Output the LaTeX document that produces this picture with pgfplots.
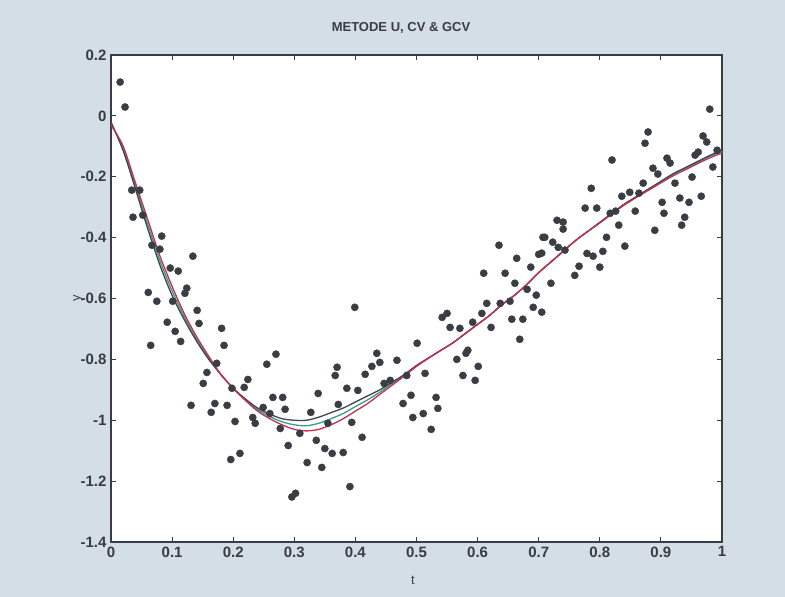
\documentclass[border=0pt]{standalone}
\usepackage{pgfplots}
\pgfplotsset{compat=1.18}
\usepackage{pgfplotstable}
\usepackage{fontspec}
\setmainfont{Liberation Sans}
\definecolor{bgcol}{HTML}{D4DEE7}
\definecolor{axcol}{HTML}{3A3C44}
\definecolor{dotcol}{HTML}{3B3D45}
\definecolor{darkcurve}{HTML}{3E4650}
\definecolor{greencurve}{HTML}{3C9A88}
\definecolor{redcurve}{HTML}{C8304E}

\pgfplotstableread{
t y
0.015 0.111
0.023 0.029
0.034 -0.244
0.047 -0.244
0.036 -0.333
0.052 -0.326
0.083 -0.395
0.067 -0.425
0.080 -0.438
0.134 -0.461
0.097 -0.500
0.110 -0.510
0.061 -0.580
0.075 -0.609
0.124 -0.566
0.121 -0.583
0.101 -0.609
0.141 -0.639
0.144 -0.682
0.092 -0.678
0.105 -0.708
0.114 -0.741
0.065 -0.754
0.181 -0.698
0.185 -0.754
0.270 -0.783
0.255 -0.816
0.173 -0.813
0.157 -0.843
0.151 -0.879
0.224 -0.866
0.218 -0.892
0.198 -0.895
0.265 -0.925
0.281 -0.925
0.339 -0.912
0.370 -0.826
0.367 -0.853
0.131 -0.951
0.170 -0.945
0.190 -0.951
0.164 -0.974
0.249 -0.958
0.285 -0.964
0.327 -0.974
0.372 -0.948
0.203 -1.004
0.232 -0.991
0.236 -1.010
0.260 -0.978
0.277 -1.027
0.309 -1.043
0.355 -1.010
0.336 -1.066
0.290 -1.083
0.350 -1.093
0.362 -1.109
0.321 -1.139
0.345 -1.155
0.196 -1.129
0.211 -1.109
0.296 -1.252
0.302 -1.240
0.380 -1.106
0.394 -1.007
0.411 -1.056
0.391 -1.218
0.478 -0.945
0.494 -0.991
0.511 -0.978
0.535 -0.961
0.524 -1.030
0.399 -0.629
0.416 -0.849
0.427 -0.823
0.435 -0.780
0.440 -0.810
0.386 -0.895
0.404 -0.902
0.447 -0.879
0.457 -0.869
0.468 -0.803
0.484 -0.853
0.491 -0.918
0.532 -0.925
0.501 -0.747
0.514 -0.846
0.566 -0.800
0.576 -0.853
0.581 -0.780
0.584 -0.770
0.601 -0.823
0.596 -0.869
0.542 -0.662
0.550 -0.649
0.555 -0.695
0.571 -0.698
0.592 -0.678
0.607 -0.649
0.615 -0.616
0.622 -0.695
0.637 -0.616
0.656 -0.668
0.674 -0.668
0.669 -0.734
0.653 -0.609
0.610 -0.517
0.645 -0.517
0.635 -0.425
0.664 -0.468
0.661 -0.550
0.681 -0.570
0.687 -0.497
0.700 -0.455
0.696 -0.589
0.691 -0.629
0.705 -0.645
0.720 -0.550
0.710 -0.399
0.723 -0.415
0.732 -0.432
0.740 -0.349
0.980 0.022
0.879 -0.053
0.874 -0.090
0.969 -0.066
0.975 -0.086
0.820 -0.145
0.910 -0.139
0.915 -0.155
0.956 -0.129
0.961 -0.119
0.985 -0.168
0.992 -0.113
0.887 -0.172
0.895 -0.191
0.951 -0.201
0.786 -0.238
0.871 -0.221
0.923 -0.221
0.849 -0.251
0.836 -0.264
0.864 -0.254
0.902 -0.284
0.931 -0.270
0.946 -0.284
0.966 -0.264
0.776 -0.303
0.795 -0.303
0.817 -0.320
0.826 -0.313
0.858 -0.313
0.905 -0.320
0.939 -0.333
0.934 -0.359
0.890 -0.376
0.831 -0.359
0.811 -0.399
0.730 -0.343
0.740 -0.372
0.707 -0.399
0.841 -0.428
0.805 -0.445
0.779 -0.452
0.789 -0.461
0.766 -0.494
0.800 -0.497
0.759 -0.524
0.705 -0.451
0.743 -0.441
}\points

\pgfplotstableread{
t u cv gcv
0.00 -0.020 -0.025 -0.030
0.02 -0.115 -0.108 -0.100
0.04 -0.240 -0.230 -0.220
0.06 -0.370 -0.355 -0.340
0.08 -0.490 -0.475 -0.460
0.10 -0.590 -0.575 -0.560
0.12 -0.670 -0.660 -0.650
0.14 -0.740 -0.733 -0.725
0.16 -0.800 -0.795 -0.790
0.18 -0.850 -0.850 -0.850
0.20 -0.895 -0.895 -0.895
0.22 -0.930 -0.933 -0.935
0.24 -0.960 -0.965 -0.970
0.26 -0.980 -0.988 -0.995
0.28 -0.995 -1.005 -1.015
0.30 -1.000 -1.015 -1.030
0.32 -1.000 -1.018 -1.035
0.34 -0.990 -1.010 -1.030
0.36 -0.975 -0.995 -1.015
0.38 -0.960 -0.978 -0.995
0.40 -0.940 -0.955 -0.970
0.42 -0.920 -0.933 -0.945
0.44 -0.900 -0.908 -0.915
0.46 -0.875 -0.880 -0.885
0.48 -0.850 -0.853 -0.855
0.50 -0.820 -0.822 -0.823
0.52 -0.795 -0.795 -0.796
0.54 -0.770 -0.770 -0.770
0.56 -0.745 -0.745 -0.745
0.58 -0.715 -0.715 -0.715
0.60 -0.685 -0.685 -0.685
0.62 -0.655 -0.655 -0.655
0.64 -0.620 -0.620 -0.620
0.66 -0.590 -0.590 -0.590
0.68 -0.555 -0.555 -0.555
0.70 -0.515 -0.515 -0.515
0.72 -0.480 -0.480 -0.480
0.74 -0.445 -0.445 -0.445
0.76 -0.410 -0.410 -0.410
0.78 -0.380 -0.380 -0.380
0.80 -0.350 -0.350 -0.352
0.82 -0.320 -0.320 -0.322
0.84 -0.290 -0.291 -0.293
0.86 -0.265 -0.266 -0.268
0.88 -0.240 -0.241 -0.244
0.90 -0.215 -0.217 -0.220
0.92 -0.190 -0.193 -0.197
0.94 -0.170 -0.173 -0.177
0.96 -0.150 -0.153 -0.157
0.98 -0.130 -0.133 -0.138
1.00 -0.113 -0.117 -0.122
}\curves

\begin{document}
\begin{tikzpicture}[x=1pt,y=1pt]
\fill[bgcol] (0,0) rectangle (785,597);
\useasboundingbox (0,0) rectangle (785,597);
\begin{axis}[
  at={(111pt,55pt)}, anchor=south west,
  scale only axis, width=611pt, height=487pt,
  xmin=0, xmax=1, ymin=-1.4, ymax=0.2,
  axis background/.style={fill=white},
  xtick={0,0.1,0.2,0.3,0.4,0.5,0.6,0.7,0.8,0.9,1},
  xticklabels={0,0.1,0.2,0.3,0.4,0.5,0.6,0.7,0.8,0.9,1},
  ytick={-1.4,-1.2,-1,-0.8,-0.6,-0.4,-0.2,0,0.2},
  yticklabels={-1.4,-1.2,-1,-0.8,-0.6,-0.4,-0.2,0,0.2},
  tick align=inside, major tick length=5pt,
  axis line style={line width=1.4pt, color=axcol},
  every tick/.style={line width=1pt, color=axcol},
  ticklabel style={font=\fontsize{15}{17}\selectfont\bfseries, text=axcol},
  xticklabel style={yshift=-1pt},
  yticklabel style={xshift=-1pt},
]
\addplot[only marks, mark=*, mark size=3.6pt, color=dotcol] table[x=t,y=y] {\points};
\addplot[smooth, line width=1.3pt, color=greencurve] table[x=t,y=cv] {\curves};
\addplot[smooth, line width=1.3pt, color=darkcurve] table[x=t,y=u] {\curves};
\addplot[smooth, line width=1.3pt, color=redcurve] table[x=t,y=gcv] {\curves};
\end{axis}
\node[font=\fontsize{13}{15}\selectfont\bfseries, text=axcol] at (401,569) {METODE U, CV \& GCV};
\node[font=\fontsize{13}{15}\selectfont, text=axcol] at (413,17) {t};
\node[font=\fontsize{13}{15}\selectfont, text=axcol, rotate=90] at (78,299) {y};
\end{tikzpicture}
\end{document}
